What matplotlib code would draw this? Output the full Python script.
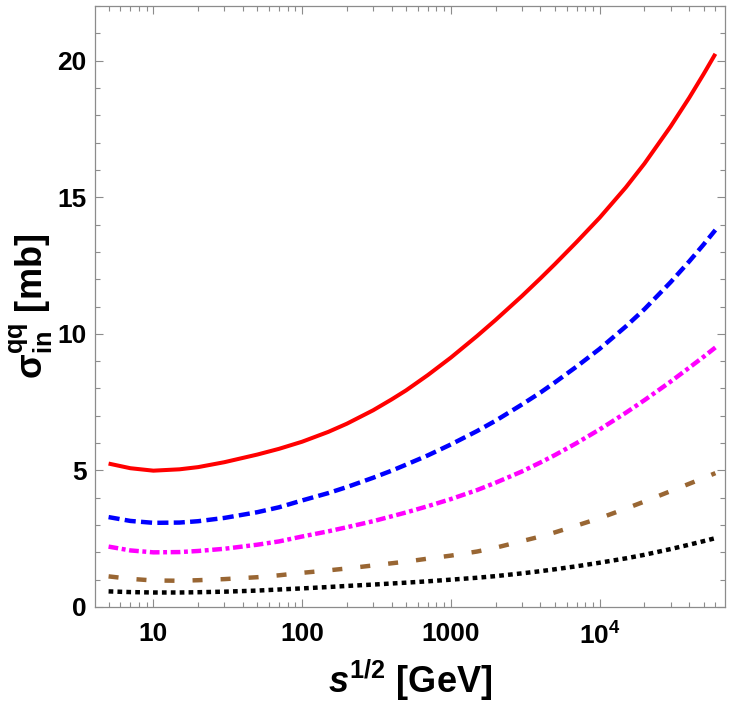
import numpy as np
import matplotlib
matplotlib.use("Agg")
import matplotlib.pyplot as plt
from matplotlib.ticker import FixedLocator, FixedFormatter, LogLocator, MultipleLocator, NullFormatter

plt.rcParams['font.family'] = ['Liberation Sans', 'DejaVu Sans']
plt.rcParams['font.weight'] = 'bold'
plt.rcParams['mathtext.fontset'] = 'custom'
plt.rcParams['mathtext.rm'] = 'Liberation Sans:bold'
plt.rcParams['mathtext.bf'] = 'Liberation Sans:bold'
plt.rcParams['mathtext.it'] = 'Liberation Sans:italic:bold'
plt.rcParams['lines.scale_dashes'] = False

# sqrt(s) in GeV
sqrt_s = [5, 7, 10, 15, 20, 30, 50, 70, 100, 150, 200, 300, 400, 500, 700,
          1000, 1500, 2000, 3000, 4000, 5000, 7000, 1e4, 1.5e4, 2e4, 3e4,
          4e4, 5e4, 6e4]

sig_red = [5.25, 5.08, 4.99, 5.04, 5.12, 5.30, 5.58, 5.79, 6.05, 6.41, 6.71,
           7.20, 7.60, 7.93, 8.49, 9.13, 9.92, 10.51, 11.38, 12.03, 12.55,
           13.36, 14.25, 15.36, 16.23, 17.59, 18.64, 19.51, 20.25]
sig_blue = [3.29, 3.15, 3.08, 3.09, 3.14, 3.26, 3.47, 3.65, 3.90, 4.17, 4.39,
            4.73, 4.99, 5.21, 5.55, 5.95, 6.44, 6.82, 7.41, 7.85, 8.22, 8.80,
            9.45, 10.27, 10.90, 11.89, 12.65, 13.27, 13.80]
sig_magenta = [2.21, 2.07, 2.00, 2.01, 2.05, 2.13, 2.28, 2.40, 2.58, 2.77,
               2.92, 3.14, 3.32, 3.46, 3.69, 3.95, 4.28, 4.55, 4.96, 5.29,
               5.56, 6.00, 6.50, 7.11, 7.57, 8.25, 8.76, 9.16, 9.50]
sig_brown = [1.12, 1.03, 0.97, 0.96, 0.98, 1.02, 1.09, 1.16, 1.25, 1.34, 1.41,
             1.52, 1.60, 1.66, 1.77, 1.88, 2.03, 2.17, 2.41, 2.58, 2.73, 2.98,
             3.25, 3.60, 3.86, 4.24, 4.51, 4.72, 4.90]
sig_black = [0.57, 0.545, 0.53, 0.53, 0.54, 0.56, 0.60, 0.64, 0.68, 0.73, 0.77,
             0.82, 0.86, 0.89, 0.94, 1.00, 1.07, 1.13, 1.23, 1.31, 1.38, 1.49,
             1.62, 1.78, 1.91, 2.12, 2.28, 2.41, 2.52]

xticks = [10, 100, 1000, 1e4]
xticklabels = ['10', '100', '1000', r'$\mathbf{10}^{\mathbf{4}}$']
yticks = [0, 5, 10, 15, 20]

fig = plt.figure(figsize=(7.30, 7.09), dpi=100)
ax = fig.add_axes([0.130, 0.1439, 0.8630, 0.8476])

ax.plot(sqrt_s, sig_red, color=(1, 0, 0), lw=2.9, solid_capstyle='butt')
ax.plot(sqrt_s, sig_blue, color=(0, 0, 1), lw=3.2, linestyle=(0, (8.0, 3.8)))
ax.plot(sqrt_s, sig_magenta, color=(1, 0, 1), lw=3.2,
        linestyle=(0, (7.0, 2.6, 2.8, 2.6)))
ax.plot(sqrt_s, sig_brown, color=(0.6, 0.4, 0.2), lw=3.2, linestyle=(0, (7.2, 13.0)))
ax.plot(sqrt_s, sig_black, color='black', lw=3.2, linestyle=(0, (3.4, 3.0)))

ax.set_xscale('log')
ax.set_xlim(10 ** 0.607, 10 ** 4.842)
ax.set_ylim(0, 22)

ax.xaxis.set_major_locator(FixedLocator(xticks))
ax.xaxis.set_major_formatter(FixedFormatter(xticklabels))
ax.xaxis.set_minor_locator(LogLocator(base=10, subs=np.arange(2, 10), numticks=20))
ax.xaxis.set_minor_formatter(NullFormatter())
ax.set_yticks(yticks)
ax.yaxis.set_minor_locator(MultipleLocator(1))

ax.tick_params(which='both', direction='in', top=True, right=True,
               color='#8c8c8c', width=0.8, labelsize=19, labelcolor='black')
ax.tick_params(which='major', length=6)
ax.tick_params(which='minor', length=3.5)
ax.tick_params(axis='x', which='major', pad=11)
ax.tick_params(axis='y', which='major', pad=6)
for lab in ax.get_xticklabels() + ax.get_yticklabels():
    lab.set_fontweight('bold')
for sp in ax.spines.values():
    sp.set_color('#8c8c8c')
    sp.set_linewidth(0.9)

ax.set_xlabel(r'$s^{\mathbf{1/2}}$ [GeV]', fontsize=26, fontweight='bold', labelpad=6)
ax.set_ylabel(r'$\mathbf{\sigma}_{\mathbf{in}}^{\mathbf{qq}}$ [mb]', fontsize=26,
              fontweight='bold', labelpad=2)

fig.savefig('out.png', dpi=100)
